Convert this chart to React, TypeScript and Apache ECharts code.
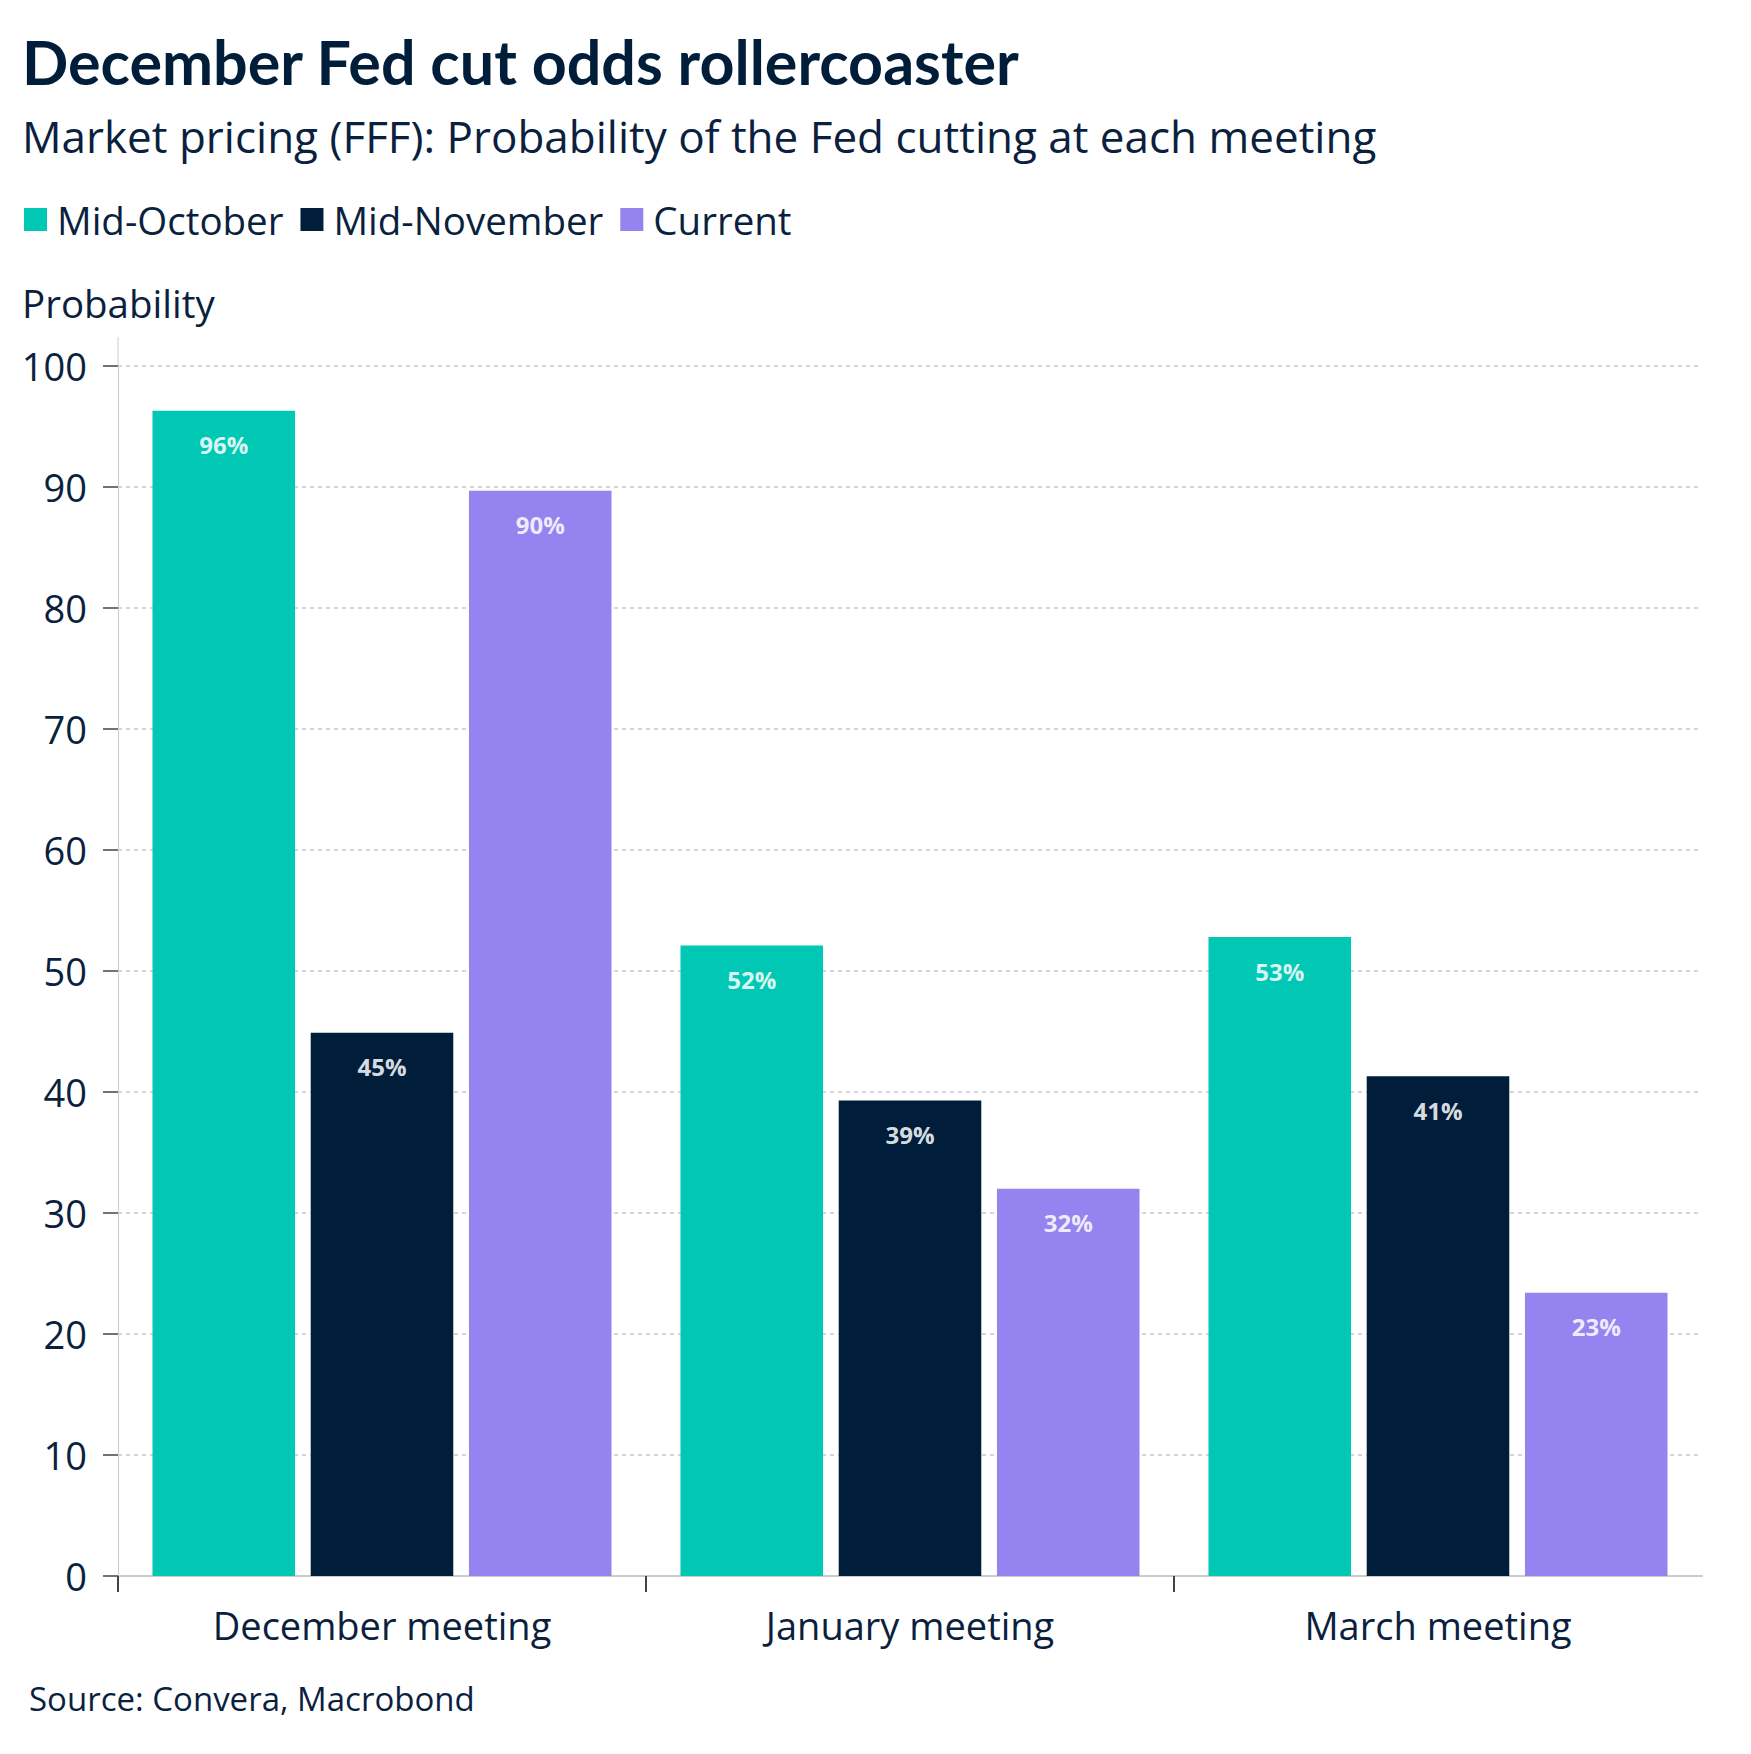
import { useEffect, useRef } from 'react';
import * as echarts from 'echarts';

const meetings = ['December meeting', 'January meeting', 'March meeting'];
const seriesNames = ['Mid-October', 'Mid-November', 'Current'];
const midOctober = [96.3, 52.1, 52.8];
const midNovember = [44.9, 39.3, 41.3];
const current = [89.7, 32.0, 23.4];
const colors = ['#00c8b4', '#001e3a', '#9583f0'];
// category boundaries that carry a tick (none at the right end)
const boundaryTicks = [0, 1, 2];

const TITLE_FONT = 'Lato, "Open Sans", sans-serif';
const FONT = '"Open Sans", "Noto Sans", sans-serif';
const NAVY = '#0b1f3f';

const App = () => {
  const chartRef = useRef<HTMLDivElement>(null);

  useEffect(() => {
    document.body.style.margin = '0';
    if (!chartRef.current) return;
    const chart = echarts.init(chartRef.current, undefined, { renderer: 'svg' });

    const values = [midOctober, midNovember, current];

    const options: echarts.EChartsOption = {
      animation: false,
      backgroundColor: '#ffffff',
      textStyle: { fontFamily: FONT },
      title: [
        {
          text: 'December Fed cut odds rollercoaster',
          left: 22,
          top: 31,
          padding: 0,
          textStyle: { fontSize: 61, fontWeight: 'bold', color: '#001e3a', fontFamily: TITLE_FONT }
        },
        {
          text: 'Market pricing (FFF): Probability of the Fed cutting at each meeting',
          left: 22,
          top: 114,
          padding: 0,
          textStyle: { fontSize: 44, fontWeight: 'normal', color: NAVY, fontFamily: FONT }
        },
        {
          text: 'Probability',
          left: 22,
          top: 283,
          padding: 0,
          textStyle: { fontSize: 38.5, fontWeight: 'normal', color: NAVY, fontFamily: FONT }
        },
        {
          text: 'Source: Convera, Macrobond',
          left: 29,
          top: 1682,
          padding: 0,
          textStyle: { fontSize: 33, fontWeight: 'normal', color: NAVY, fontFamily: FONT }
        }
      ],
      legend: {
        left: 24,
        top: 200,
        padding: [0, 0, 0, 0],
        icon: 'rect',
        itemWidth: 23,
        itemHeight: 23,
        itemGap: 17,
        textStyle: { fontSize: 38.5, color: NAVY, fontFamily: FONT, padding: [0, 0, 0, 5] },
        data: seriesNames
      },
      grid: { left: 118, right: 49, top: 366, bottom: 178, containLabel: false },
      xAxis: [
        {
          type: 'category',
          data: meetings,
          axisLine: { lineStyle: { color: '#cccccc', width: 2 } },
          axisTick: { show: false },
          axisLabel: { fontSize: 38, color: NAVY, margin: 30, fontFamily: FONT }
        },
        {
          type: 'value',
          position: 'bottom',
          min: 0,
          max: meetings.length,
          interval: 1,
          axisLine: { show: false },
          axisLabel: { show: false },
          splitLine: { show: false },
          axisTick: {
            show: true,
            length: 16,
            customValues: boundaryTicks,
            lineStyle: { color: '#444444', width: 2 }
          }
        } as any
      ],
      yAxis: {
        type: 'value',
        min: 0,
        max: 100,
        interval: 10,
        axisLine: { show: true, lineStyle: { color: '#cccccc', width: 1 } },
        axisTick: { show: true, length: 15, lineStyle: { color: '#444444', width: 1.5 } },
        axisLabel: { fontSize: 38, color: NAVY, margin: 31, fontFamily: FONT },
        splitLine: { lineStyle: { color: '#c8c8c8', type: [4, 4], width: 1.5 } }
      },
      graphic: [
        {
          type: 'line',
          shape: { x1: 118, y1: 337, x2: 118, y2: 366 },
          style: { stroke: '#cccccc', lineWidth: 1 }
        }
      ],
      series: seriesNames.map((name, i) => ({
        name,
        type: 'bar',
        xAxisIndex: 0,
        data: values[i],
        barWidth: '27%',
        barGap: '11%',
        itemStyle: { color: colors[i] },
        label: {
          show: true,
          position: 'insideTop',
          distance: 22,
          fontSize: 24,
          fontWeight: 'bold',
          fontFamily: FONT,
          color: 'rgba(255,255,255,0.86)',
          formatter: (p: any) => Math.round(p.value) + '%'
        }
      }))
    };

    chart.setOption(options);

    return () => {
      chart.dispose();
    };
  }, []);

  return <div ref={chartRef} style={{ width: '1751px', height: '1754px' }} />;
};

export default App;
